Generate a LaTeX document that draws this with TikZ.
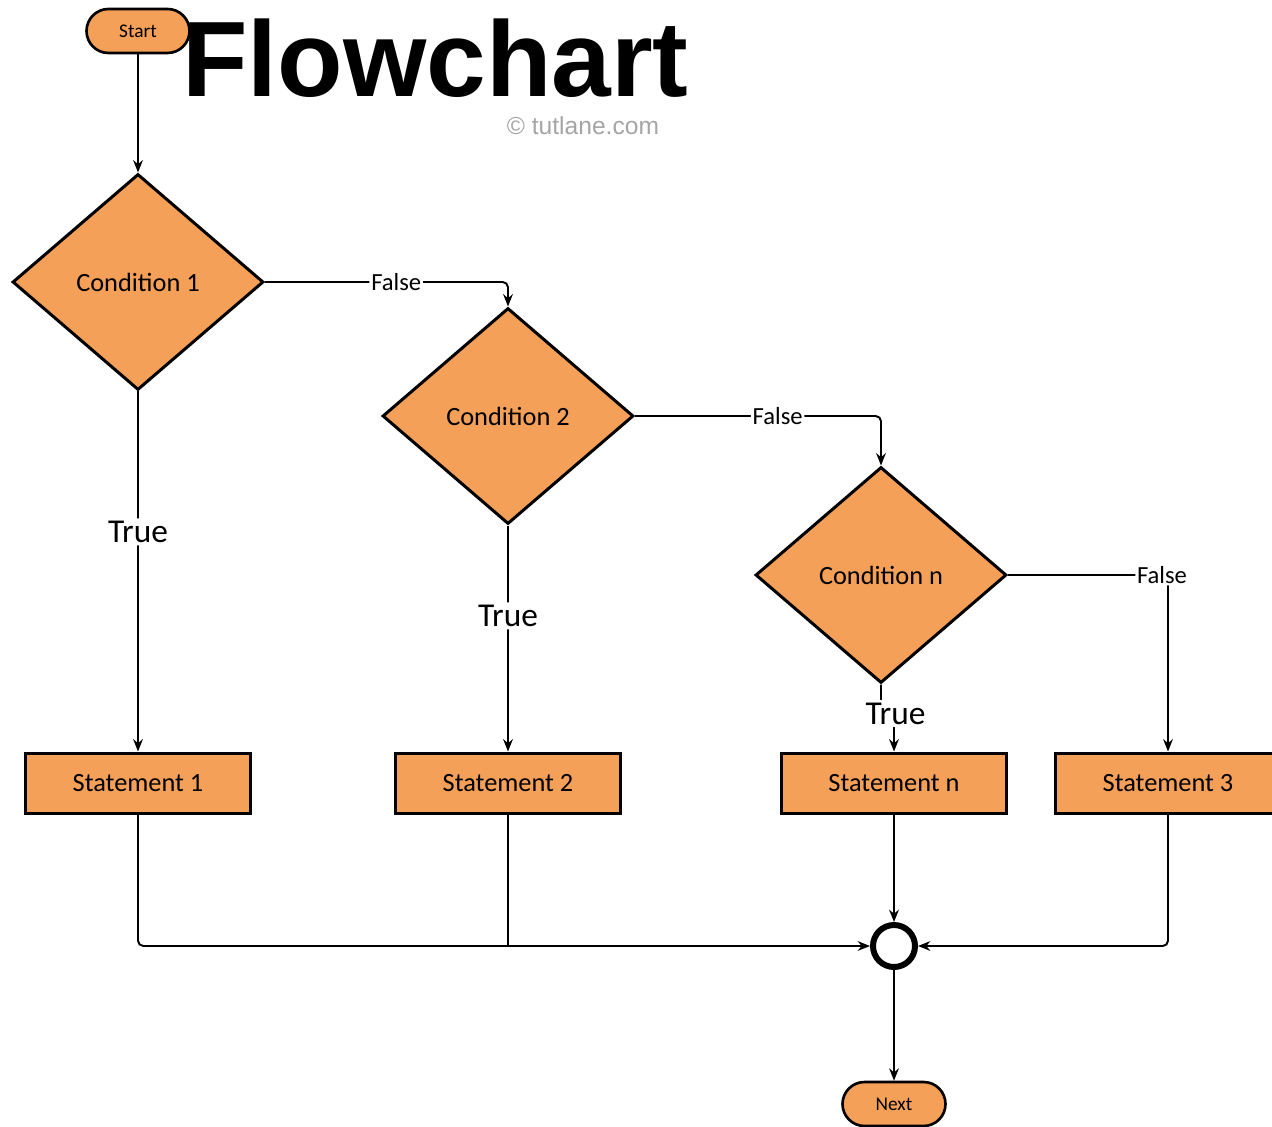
\documentclass[tikz,border=0pt]{standalone}
\usepackage{fontspec}
\setmainfont{Carlito}
\newfontfamily\titlefont{Liberation Sans}
\usetikzlibrary{shapes.geometric,arrows.meta}
\definecolor{boxorange}{RGB}{244,160,88}
\definecolor{markgrey}{RGB}{165,165,165}
\tikzset{
  >={Stealth[length=7pt,width=5.5pt]},
  line/.style={line width=1.1pt, rounded corners=3pt},
  cond/.style={diamond, draw, fill=boxorange, line width=1.7pt, inner sep=0pt,
    minimum width=5.02cm, minimum height=4.32cm, font=\fontsize{15}{15}\selectfont},
  stmt/.style={rectangle, draw, fill=boxorange, line width=1.7pt,
    minimum width=4.5cm, minimum height=1.2cm, font=\fontsize{15}{15}\selectfont},
  term/.style={rectangle, rounded corners=0.44cm, draw, fill=boxorange, line width=1.5pt,
    minimum width=2.06cm, minimum height=0.88cm, font=\fontsize{11}{11}\selectfont},
  falselbl/.style={fill=white, inner sep=1pt, font=\fontsize{14}{14}\selectfont},
  truelbl/.style={fill=white, inner sep=1.5pt, font=\fontsize{19}{19}\selectfont}
}
\begin{document}
\begin{tikzpicture}
    \useasboundingbox (0,0) rectangle (25.44,-22.52);

    % Title and mark
    \node[anchor=base west, inner sep=0pt] (title) at (3.64,-1.94)
        {\titlefont\bfseries\fontsize{61}{61}\selectfont Flowchart};
    \node[text=markgrey, inner sep=0pt] (mark) at (11.66,-2.52)
        {\titlefont\fontsize{14}{14}\selectfont © tutlane.com};

    % Terminals
    \node[term] (start) at (2.76,-0.62) {Start};
    \node[term] (next) at (17.88,-22.08) {Next};

    % Conditions
    \node[cond] (cond1) at (2.76,-5.64) {Condition 1};
    \node[cond] (cond2) at (10.16,-8.32) {Condition 2};
    \node[cond] (condn) at (17.62,-11.5) {Condition n};

    % Statements
    \node[stmt] (stmt1) at (2.76,-15.66) {Statement 1};
    \node[stmt] (stmt2) at (10.16,-15.66) {Statement 2};
    \node[stmt] (stmtn) at (17.88,-15.66) {Statement n};
    \node[stmt] (stmt3) at (23.36,-15.66) {Statement 3};

    % Junction
    \node[circle, draw, line width=3.4pt, fill=white, minimum size=0.84cm, inner sep=0pt]
        (join) at (17.88,-18.92) {};

    % Start to first condition
    \draw[line, ->] (start) -- (cond1);

    % False branches
    \draw[line, ->] (cond1.east) -| node[falselbl, pos=0.27] {False} (cond2.north);
    \draw[line, ->] (cond2.east) -| node[falselbl, pos=0.29] {False} (condn.north);
    \draw[line, ->] (condn.east) -| node[falselbl, pos=0.5, xshift=-0.12cm] {False} (stmt3.north);

    % True branches
    \draw[line, ->] (cond1.south) -- node[truelbl, pos=0.39] {True} (stmt1.north);
    \draw[line, ->] (cond2.south) -- node[truelbl, pos=0.4] {True} (stmt2.north);
    \draw[line, ->] (condn.south) -- ++(0,-0.58) -| (stmtn.north)
        node[truelbl, pos=0.25, xshift=0.16cm] {True};

    % Into the junction
    \draw[line, ->] (stmt1.south) |- (join.west);
    \draw[line] (stmt2.south) -- (stmt2.south |- join.west);
    \draw[line, ->] (stmtn.south) -- (join.north);
    \draw[line, ->] (stmt3.south) |- (join.east);

    % Out of the junction
    \draw[line, ->] (join.south) -- (next.north);
\end{tikzpicture}
\end{document}
